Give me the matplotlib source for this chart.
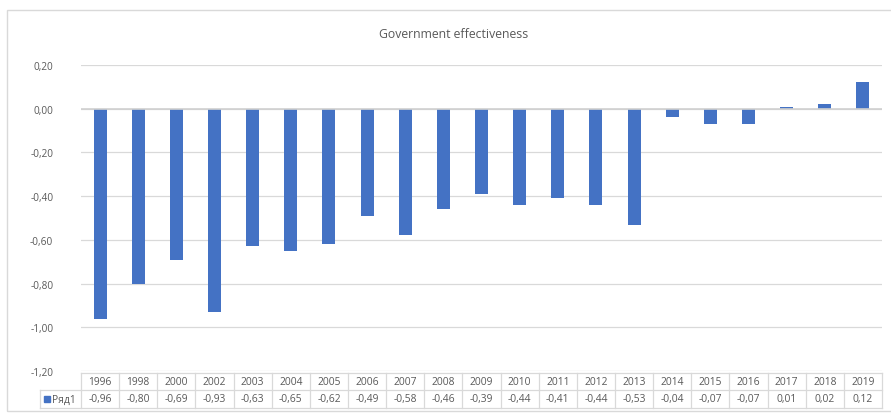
import matplotlib
matplotlib.use("Agg")
import matplotlib.pyplot as plt
from matplotlib.transforms import blended_transform_factory
from matplotlib.patches import Rectangle

years = ["1996", "1998", "2000", "2002", "2003", "2004", "2005", "2006", "2007",
         "2008", "2009", "2010", "2011", "2012", "2013", "2014", "2015", "2016",
         "2017", "2018", "2019"]
values = [-0.96, -0.80, -0.69, -0.93, -0.63, -0.65, -0.62, -0.49, -0.58,
          -0.46, -0.39, -0.44, -0.41, -0.44, -0.53, -0.04, -0.07, -0.07,
          0.01, 0.02, 0.12]
series_name = "Ряд1"
title = "Government effectiveness"
yticks = [0.20, 0.00, -0.20, -0.40, -0.60, -0.80, -1.00, -1.20]

W, H = 891, 414
fig = plt.figure(figsize=(W / 100, H / 100), dpi=100)
plt.rcParams['font.family'] = ['Open Sans', 'DejaVu Sans']
txt = '#595959'
grid = '#d9d9d9'
bar_c = '#4472C4'

def fx(px):
    return px / W

def fy(py):
    return 1 - py / H

# chart border
fig.patches.append(Rectangle((fx(7), fy(412)), fx(900) - fx(7), fy(11) - fy(412),
                             transform=fig.transFigure, fill=False,
                             edgecolor='#d9d9d9', linewidth=1.0))

left, right = 81, 882
top, bottom = 66, 372
ax = fig.add_axes([fx(left), fy(bottom), fx(right) - fx(left), fy(top) - fy(bottom)])
n = len(years)
x = list(range(n))
ax.bar(x, values, width=0.34, color=bar_c, zorder=3)
ax.set_xlim(-0.5, n - 0.5)
ax.set_ylim(-1.2, 0.2)
ax.set_yticks(yticks)
ax.set_yticklabels([("%.2f" % v).replace('.', ',') for v in yticks], fontsize=7.2, color=txt)
ax.tick_params(axis='y', length=0, pad=20)
ax.set_xticks([])
for s in ax.spines.values():
    s.set_visible(False)
for v in yticks:
    ax.axhline(v, color=grid, linewidth=0.9, zorder=1)
ax.axhline(0, color='#d0d0d0', linewidth=1.2, zorder=4)
ax.set_facecolor('none')

fig.text(fx(454), fy(34), title, ha='center', va='center', fontsize=8.8, color=txt)

# data table
tr = blended_transform_factory(ax.transData, fig.transFigure)
y0, y1, y2 = fy(374), fy(391), fy(409)
lc = '#d9d9d9'
lw = 0.9
ax.plot([-0.5, n - 0.5], [y0, y0], transform=tr, color=lc, lw=lw, clip_on=False)
fig.add_artist(plt.Line2D([fx(40), fx(right)], [y1, y1], transform=fig.transFigure, color=lc, lw=lw))
fig.add_artist(plt.Line2D([fx(40), fx(right)], [y2, y2], transform=fig.transFigure, color=lc, lw=lw))
fig.add_artist(plt.Line2D([fx(40), fx(40)], [y1, y2], transform=fig.transFigure, color=lc, lw=lw))
for i in range(n + 1):
    ax.plot([i - 0.5, i - 0.5], [y0, y2], transform=tr, color=lc, lw=lw, clip_on=False)
for i in range(n):
    ax.text(i, (y0 + y1) / 2, years[i], transform=tr, ha='center', va='center',
            fontsize=7.4, color=txt)
    ax.text(i, (y1 + y2) / 2, ("%.2f" % values[i]).replace('.', ','), transform=tr,
            ha='center', va='center', fontsize=7.4, color=txt)
fig.patches.append(Rectangle((fx(44), fy(403)), fx(6), fy(397) - fy(403),
                             transform=fig.transFigure, color=bar_c))
fig.text(fx(52), (y1 + y2) / 2, series_name, ha='left', va='center', fontsize=7.4, color=txt)

fig.savefig("out.png", dpi=100)
